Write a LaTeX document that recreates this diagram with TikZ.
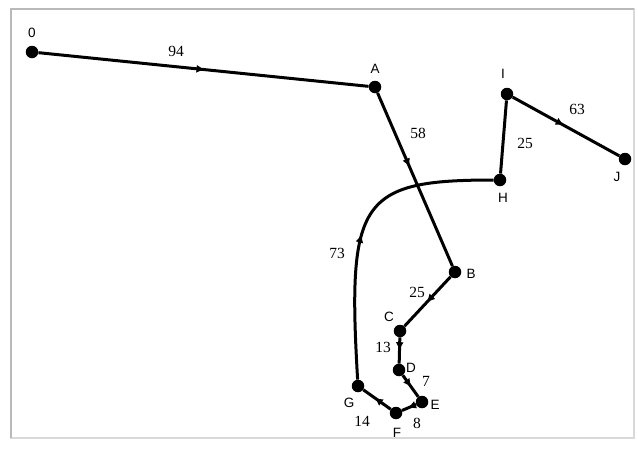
\documentclass[tikz,border=0pt]{standalone}
\usepackage{fontspec}
\setmainfont{Liberation Serif}
\newfontfamily\lblfont{Liberation Sans}
\usetikzlibrary{arrows.meta,decorations.markings}
\begin{document}
\begin{tikzpicture}[x=1pt,y=-1pt,
  dot/.style={circle,fill=black,inner sep=0pt,minimum size=12.5pt},
  vlbl/.style={font=\lblfont\fontsize{13.5}{13.5}\selectfont,inner sep=0pt},
  wlbl/.style={font=\fontsize{15.5}{15.5}\selectfont,inner sep=0pt},
  edge/.style={line width=3pt,postaction={decorate},
    decoration={markings,mark=at position #1 with {\arrow{Triangle[length=7pt,width=7pt]}}}},
  edge/.default=0.5]
\useasboundingbox (0,0) rectangle (638,448);
\draw[gray!30,line width=1.2pt] (11,9) rectangle (634,438);
\draw[gray!55,line width=2pt] (11,438) -- (11,9) -- (634,9);
% vertices
\node[dot] (o) at (32,52) {};
\node[dot] (A) at (375,87) {};
\node[dot] (B) at (455,272) {};
\node[dot] (C) at (400,331) {};
\node[dot] (D) at (399,370) {};
\node[dot] (E) at (422,402) {};
\node[dot] (F) at (396,413) {};
\node[dot] (G) at (358,386) {};
\node[dot] (H) at (500,180) {};
\node[dot] (I) at (507,94) {};
\node[dot] (J) at (625,159) {};
% edges
\draw[edge=0.5] (o) -- (A);
\draw[edge=0.42] (A) -- (B);
\draw[edge=0.5] (B) -- (C);
\draw[edge=0.45] (C) -- (D);
\draw[edge=0.5] (D) -- (E);
\draw[edge=0.5] (E) -- (F);
\draw[edge=0.55] (F) -- (G);
\draw[edge=0.48] (G) .. controls (347,200) and (360,180) .. (H);
\draw[line width=3pt] (H) -- (I);
\draw[edge=0.47] (I) -- (J);
% vertex labels
\node[vlbl] (lo) at (32,33) {0};
\node[vlbl] (lA) at (375,69) {A};
\node[vlbl] (lB) at (471,274) {B};
\node[vlbl] (lC) at (389,317) {C};
\node[vlbl] (lD) at (411,368) {D};
\node[vlbl] (lE) at (435,405) {E};
\node[vlbl] (lF) at (397,433) {F};
\node[vlbl] (lG) at (349,403) {G};
\node[vlbl] (lH) at (503,198) {H};
\node[vlbl] (lI) at (503,74) {I};
\node[vlbl] (lJ) at (617,177) {J};
% weights
\node[wlbl] (w94) at (176,51) {94};
\node[wlbl] (w58) at (418,133) {58};
\node[wlbl] (w25a) at (525,143) {25};
\node[wlbl] (w63) at (577,109) {63};
\node[wlbl] (w73) at (337,253) {73};
\node[wlbl] (w25b) at (417,292) {25};
\node[wlbl] (w13) at (383,347) {13};
\node[wlbl] (w7) at (426,381) {7};
\node[wlbl] (w8) at (417,423) {8};
\node[wlbl] (w14) at (362,421) {14};
\end{tikzpicture}
\end{document}
